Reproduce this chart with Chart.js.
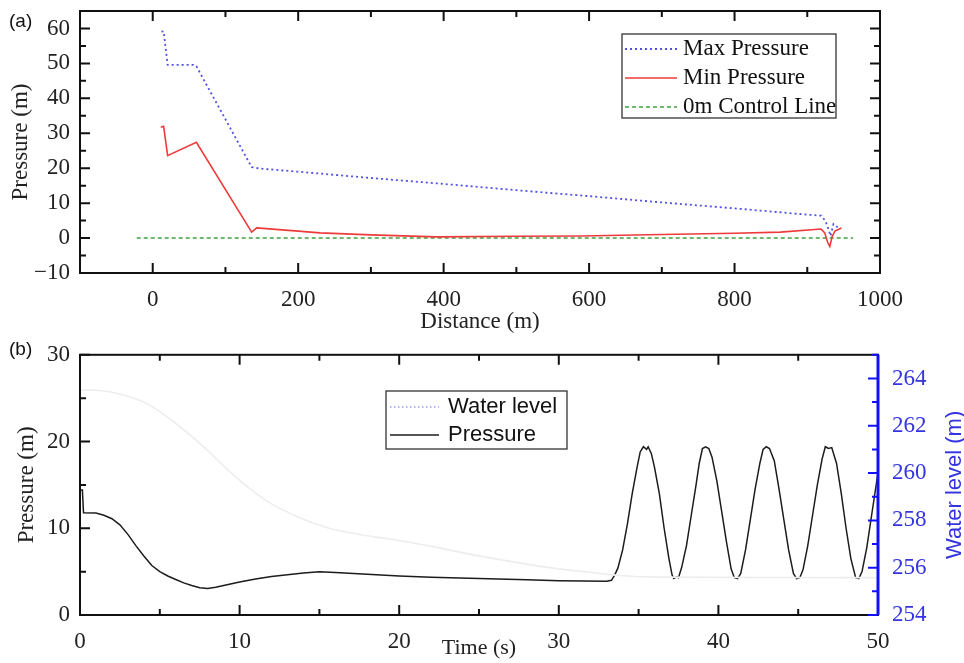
<!DOCTYPE html>
<html>
<head>
<meta charset="utf-8">
<script src="https://cdn.jsdelivr.net/npm/chart.js@4.4.1/dist/chart.umd.min.js"></script>
<style>
  body { margin: 0; background: #fff; }
  canvas { position: absolute; left: 0; }
  #chartA { top: 0; }
  #chartB { top: 335px; }
</style>
</head>
<body>
<canvas id="chartA" width="964" height="335"></canvas>
<canvas id="chartB" width="964" height="328"></canvas>
<script>
// (a) pressure envelope along the pipe
const distMax = [12, 15, 20.5, 56, 60, 136, 147, 200, 230, 300, 400, 500, 600, 700, 800, 900, 919, 925, 930, 932, 936, 939, 943];
const maxPressure = [59.1, 59.2, 49.6, 49.6, 49.2, 20.3, 19.9, 19.0, 18.45, 17.2, 15.5, 13.7, 12.0, 10.2, 8.5, 6.7, 6.4, 4.9, 2.0, 0.6, 4.0, 3.5, 2.9];
const distMin = [11, 15, 20.5, 60, 136, 143, 200, 230, 300, 390, 500, 588, 700, 800, 863, 919, 924, 928, 931, 934, 938, 947];
const minPressure = [31.7, 32.0, 23.6, 27.4, 1.7, 2.9, 2.0, 1.5, 0.9, 0.35, 0.5, 0.6, 1.0, 1.4, 1.7, 2.6, 1.5, -1.2, -2.4, 0.3, 2.0, 2.9];
const distControl = [-22, 963];
const controlLine = [0, 0];
const xTicksA = [0, 200, 400, 600, 800, 1000];
const yTicksA = [-10, 0, 10, 20, 30, 40, 50, 60];

// (b) water level and pressure over time
const tWater = [0, 1, 2, 3, 4, 5, 6, 7, 8, 9, 10, 11, 12, 13, 14, 15, 16, 18, 20, 22, 25, 28, 30, 32, 34, 36, 50];
const waterLevel = [263.5, 263.5, 263.42, 263.25, 263.0, 262.6, 262.1, 261.55, 260.95, 260.3, 259.7, 259.15, 258.7, 258.35, 258.05, 257.8, 257.6, 257.35, 257.15, 256.9, 256.5, 256.15, 255.95, 255.8, 255.66, 255.6, 255.58];
const tPress = [0, 0.15, 0.22, 1.0, 1.5, 2.0, 2.5, 3.0, 3.5, 4.0, 4.5, 5.0, 5.5, 6.0, 6.5, 7.0, 7.5, 8.0, 8.5, 9.0, 10, 11, 12, 13, 14, 15, 16, 18, 20, 22, 25, 28, 30, 33.0,
  33.3, 33.5, 33.7, 34.0, 34.3, 34.6, 34.9, 35.1, 35.3, 35.5, 35.6, 35.8, 36.0, 36.3, 36.6, 36.9, 37.1, 37.2, 37.4, 37.5, 37.7, 38.0, 38.3, 38.6, 38.8, 39.0, 39.2, 39.4, 39.6, 39.9,
  40.2, 40.5, 40.8, 41.0, 41.2, 41.4, 41.7, 42.0, 42.3, 42.6, 42.8, 43.0, 43.2, 43.5, 43.8, 44.1, 44.4, 44.7, 44.9, 45.1, 45.3, 45.6, 45.9, 46.2, 46.5, 46.7, 46.9, 47.1, 47.4,
  47.7, 48.0, 48.3, 48.6, 48.8, 49.0, 49.3, 49.6, 50.0];
const pressure = [14.4, 14.4, 11.8, 11.75, 11.5, 11.1, 10.4, 9.3, 8.0, 6.8, 5.7, 5.0, 4.5, 4.1, 3.7, 3.4, 3.15, 3.05, 3.2, 3.4, 3.8, 4.15, 4.45, 4.65, 4.85, 5.0, 4.9, 4.7, 4.5, 4.35, 4.2, 4.05, 3.95, 3.9,
  4.0, 4.6, 5.4, 7.5, 10.5, 14.0, 17.0, 18.8, 19.4, 19.1, 19.4, 18.6, 17.0, 14.0, 10.0, 6.5, 4.6, 4.2, 4.4, 4.3, 5.5, 8.0, 11.5, 15.0, 17.5, 19.2, 19.4, 19.2, 18.2, 15.5,
  12.0, 8.5, 5.3, 4.3, 4.2, 4.8, 7.5, 11.0, 14.5, 17.5, 19.1, 19.4, 19.2, 17.8, 14.5, 11.0, 7.5, 4.8, 4.2, 4.3, 5.2, 8.0, 11.5, 15.0, 18.0, 19.4, 19.2, 19.3, 17.5,
  14.0, 10.0, 6.5, 4.3, 4.2, 5.0, 7.8, 11.5, 16.4];
const xTicksB = [0, 10, 20, 30, 40, 50];
const yTicksB = [0, 10, 20, 30];
const y2TicksB = [254, 256, 258, 260, 262, 264];

const serif = "'Liberation Serif', 'Times New Roman', serif";
const sans = "'Liberation Sans', Arial, sans-serif";
const blue = '#3434e0';

function pts(xs, ys) {
    return xs.map((x, i) => ({ x: x, y: ys[i] }));
}
function fixTicks(list) {
    return scale => { scale.ticks = list.map(v => ({ value: v })); };
}
function label(v) {
    return v < 0 ? '\u2212' + Math.abs(v) : String(v);
}

// box round the plot with inward ticks (major + minor)
const frameTicks = {
    id: 'frameTicks',
    afterDatasetsDraw(chart, args, opts) {
        const ctx = chart.ctx, a = chart.chartArea;
        ctx.save();
        ctx.lineWidth = 2;
        ctx.strokeStyle = '#111';
        ctx.strokeRect(a.left, a.top, a.right - a.left, a.bottom - a.top);
        opts.marks.forEach(m => {
            const s = chart.scales[m.scale];
            ctx.strokeStyle = m.color || '#111';
            ctx.lineWidth = 2;
            ctx.beginPath();
            for (let v = Math.ceil(s.min / m.minor) * m.minor; v <= s.max + 1e-9; v += m.minor) {
                const r = v / m.major;
                const len = Math.abs(r - Math.round(r)) < 1e-6 ? 10 : 6;
                const p = s.getPixelForValue(v);
                m.sides.forEach(side => {
                    if (side === 'bottom') { ctx.moveTo(p, a.bottom); ctx.lineTo(p, a.bottom - len); }
                    if (side === 'top') { ctx.moveTo(p, a.top); ctx.lineTo(p, a.top + len); }
                    if (side === 'left') { ctx.moveTo(a.left, p); ctx.lineTo(a.left + len, p); }
                    if (side === 'right') { ctx.moveTo(a.right, p); ctx.lineTo(a.right - len, p); }
                });
            }
            ctx.stroke();
            if (m.edge) {
                ctx.lineWidth = 3;
                ctx.beginPath();
                ctx.moveTo(a.right, a.top);
                ctx.lineTo(a.right, a.bottom);
                ctx.stroke();
            }
        });
        ctx.restore();
    }
};

// legend box drawn inside the plot
const insetLegend = {
    id: 'insetLegend',
    afterDraw(chart, args, o) {
        const ctx = chart.ctx;
        ctx.save();
        ctx.setLineDash([]);
        ctx.strokeStyle = '#333';
        ctx.lineWidth = 1.3;
        ctx.fillStyle = '#fff';
        ctx.fillRect(o.box[0], o.box[1], o.box[2], o.box[3]);
        ctx.strokeRect(o.box[0], o.box[1], o.box[2], o.box[3]);
        ctx.font = o.font;
        ctx.textBaseline = 'middle';
        chart.data.datasets.forEach((ds, i) => {
            const y = o.rowY[i];
            ctx.strokeStyle = ds.legendColor || ds.borderColor;
            ctx.lineWidth = ds.borderWidth;
            ctx.setLineDash(ds.legendDash || ds.borderDash || []);
            ctx.beginPath();
            ctx.moveTo(o.sample[0], y);
            ctx.lineTo(o.sample[1], y);
            ctx.stroke();
            ctx.setLineDash([]);
            ctx.fillStyle = '#111';
            ctx.fillText(ds.label, o.textX, y);
        });
        ctx.restore();
    }
};

// panel letter and any rotated side title
const panelTag = {
    id: 'panelTag',
    afterDraw(chart, args, o) {
        const ctx = chart.ctx, a = chart.chartArea;
        ctx.save();
        ctx.font = "19px " + sans;
        ctx.fillStyle = '#111';
        ctx.textBaseline = 'middle';
        ctx.fillText(o.text, o.x, o.y);
        if (o.side) {
            ctx.translate(o.side.x, (a.top + a.bottom) / 2);
            ctx.rotate(-Math.PI / 2);
            ctx.font = o.side.font;
            ctx.fillStyle = o.side.color;
            ctx.textAlign = 'center';
            ctx.fillText(o.side.text, 0, 0);
        }
        ctx.restore();
    }
};

Chart.register(frameTicks, insetLegend, panelTag);

const tickFont = { family: serif, size: 23 };
const titleFont = { family: serif, size: 23, lineHeight: 1 };

new Chart(document.getElementById('chartA').getContext('2d'), {
    type: 'line',
    data: {
        datasets: [{
            label: 'Max Pressure',
            data: pts(distMax, maxPressure),
            borderColor: '#5050e6',
            borderWidth: 1.8,
            borderDash: [2, 3],
            pointRadius: 0
        }, {
            label: 'Min Pressure',
            data: pts(distMin, minPressure),
            borderColor: '#ee3a3a',
            borderWidth: 1.6,
            pointRadius: 0
        }, {
            label: '0m Control Line',
            data: pts(distControl, controlLine),
            borderColor: '#3fa33f',
            borderWidth: 1.4,
            borderDash: [4, 3],
            pointRadius: 0
        }]
    },
    options: {
        responsive: false,
        animation: false,
        devicePixelRatio: 1,
        layout: { padding: { top: 11, right: 84, left: 0, bottom: 0 } },
        scales: {
            x: {
                type: 'linear',
                min: -100,
                max: 1000,
                grid: { display: false },
                border: { display: false },
                afterBuildTicks: fixTicks(xTicksA),
                afterFit: s => { s.height = 62; },
                ticks: { font: tickFont, color: '#222', padding: 5, maxRotation: 0, callback: label },
                title: { display: true, text: 'Distance (m)', font: titleFont, color: '#222', padding: { top: 0, bottom: 2 } }
            },
            y: {
                min: -10,
                max: 65,
                grid: { display: false },
                border: { display: false },
                afterBuildTicks: fixTicks(yTicksA),
                afterFit: s => { s.width = 80; s.paddingTop = 0; s.paddingBottom = 0; },
                ticks: { font: tickFont, color: '#222', padding: 2, callback: label },
                title: { display: true, text: 'Pressure (m)', font: titleFont, color: '#222', padding: { top: 9, bottom: 0 } }
            }
        },
        plugins: {
            legend: { display: false },
            tooltip: { enabled: false },
            frameTicks: {
                marks: [
                    { scale: 'x', major: 200, minor: 100, sides: ['top', 'bottom'] },
                    { scale: 'y', major: 10, minor: 5, sides: ['left', 'right'] }
                ]
            },
            insetLegend: {
                box: [622, 34, 214, 84],
                rowY: [49, 78, 107],
                sample: [625, 677],
                textX: 683,
                font: "23px " + serif
            },
            panelTag: { text: '(a)', x: 9, y: 22 }
        }
    }
});

new Chart(document.getElementById('chartB').getContext('2d'), {
    type: 'line',
    data: {
        datasets: [{
            label: 'Water level',
            data: pts(tWater, waterLevel),
            yAxisID: 'y2',
            borderColor: '#ededed',
            legendColor: '#9d9df2',
            legendDash: [1.5, 2.5],
            borderWidth: 1.6,
            tension: 0.4,
            pointRadius: 0
        }, {
            label: 'Pressure',
            data: pts(tPress, pressure),
            yAxisID: 'y',
            borderColor: '#1c1c1c',
            borderWidth: 1.5,
            pointRadius: 0
        }]
    },
    options: {
        responsive: false,
        animation: false,
        devicePixelRatio: 1,
        layout: { padding: { top: 19, right: 0, left: 0, bottom: 0 } },
        scales: {
            x: {
                type: 'linear',
                min: 0,
                max: 50,
                grid: { display: false },
                border: { display: false },
                afterBuildTicks: fixTicks(xTicksB),
                afterFit: s => { s.height = 48; },
                ticks: { font: tickFont, color: '#222', padding: 5, maxRotation: 0, callback: label },
                title: { display: true, text: 'Time (s)', font: { family: serif, size: 22, lineHeight: 1 }, color: '#222', padding: { top: 0, bottom: 4 } }
            },
            y: {
                position: 'left',
                min: 0,
                max: 30,
                grid: { display: false },
                border: { display: false },
                afterBuildTicks: fixTicks(yTicksB),
                afterFit: s => { s.width = 80; },
                ticks: { font: tickFont, color: '#222', padding: 2, callback: label },
                title: { display: true, text: 'Pressure (m)', font: titleFont, color: '#222', padding: { top: 15, bottom: 0 } }
            },
            y2: {
                position: 'right',
                min: 254,
                max: 265,
                grid: { display: false },
                border: { display: false },
                afterBuildTicks: fixTicks(y2TicksB),
                afterFit: s => { s.width = 86; },
                ticks: { font: tickFont, color: blue, padding: 6, callback: label }
            }
        },
        plugins: {
            legend: { display: false },
            tooltip: { enabled: false },
            frameTicks: {
                marks: [
                    { scale: 'x', major: 10, minor: 5, sides: ['top', 'bottom'] },
                    { scale: 'y', major: 10, minor: 5, sides: ['left'] },
                    { scale: 'y2', major: 2, minor: 1, sides: ['right'], color: '#1010ff', edge: true }
                ]
            },
            insetLegend: {
                box: [386, 56, 181, 58],
                rowY: [72, 100],
                sample: [390, 439],
                textX: 448,
                font: "22px " + sans
            },
            panelTag: {
                text: '(b)', x: 9, y: 15,
                side: { text: 'Water level (m)', x: 955, font: "22px " + sans, color: blue }
            }
        }
    }
});
</script>
</body>
</html>
